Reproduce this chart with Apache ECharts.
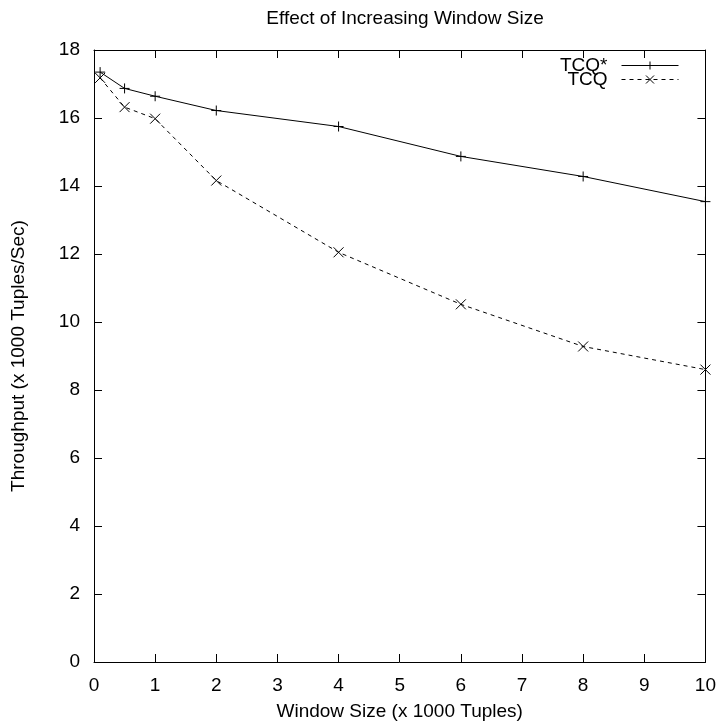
<!DOCTYPE html>
<html>
<head>
<meta charset="utf-8">
<script src="https://cdn.jsdelivr.net/npm/echarts@6/dist/echarts.min.js"></script>
<style>
  html, body { margin: 0; padding: 0; background: #fff; }
  #main { width: 719px; height: 727px; }
</style>
</head>
<body>
<div id="main"></div>
<script>
// window size (x 1000 tuples)
var windowSize = [0.1, 0.5, 1, 2, 4, 6, 8, 10];
// throughput (x 1000 tuples/sec)
var tcqStar = [17.35, 16.87, 16.64, 16.22, 15.75, 14.87, 14.28, 13.54];
var tcq = [17.18, 16.32, 15.98, 14.16, 12.05, 10.52, 9.28, 8.6];

var FONT = 'Liberation Sans, Arial, sans-serif';
var plusPath = 'path://M5,0L5,10M0,5L10,5';
var crossPath = 'path://M0,0L10,10M0,10L10,0';

function pairs(xs, ys) {
    return xs.map(function (x, i) { return [x, ys[i]]; });
}

var myChart = echarts.init(document.getElementById('main'));

// gnuplot style: full border, ticks pointing in on all four sides
var axisCommon = {
    type: 'value',
    axisLine: { show: true, onZero: false, lineStyle: { color: '#000', width: 1 } },
    axisTick: { show: true, inside: true, length: 8, lineStyle: { color: '#000' } },
    splitLine: { show: false }
};

myChart.setOption({
    animation: false,
    backgroundColor: '#fff',
    title: {
        text: 'Effect of Increasing Window Size',
        left: 400,
        top: 4,
        textAlign: 'center',
        textStyle: { fontFamily: FONT, fontSize: 19, fontWeight: 'normal', color: '#000' }
    },
    legend: {
        orient: 'vertical',
        right: 35,
        top: 51,
        align: 'right',
        itemWidth: 57,
        itemHeight: 10,
        itemGap: -5,
        lineStyle: { width: 1 },
        itemStyle: { borderWidth: 1 },
        textStyle: { fontFamily: FONT, fontSize: 19, lineHeight: 15, color: '#000', padding: [0, 9, 0, 0] },
        data: ['TCQ*', 'TCQ']
    },
    grid: { left: 94, right: 13, top: 50, bottom: 65 },
    xAxis: [
        Object.assign({}, axisCommon, {
            min: 0, max: 10, interval: 1,
            name: 'Window Size (x 1000 Tuples)',
            nameLocation: 'middle',
            nameGap: 40,
            nameTextStyle: { fontFamily: FONT, fontSize: 19, color: '#000' },
            axisLabel: { fontFamily: FONT, fontSize: 19, color: '#000', margin: 14 }
        }),
        Object.assign({}, axisCommon, {
            position: 'top', min: 0, max: 10, interval: 1,
            axisLabel: { show: false }
        })
    ],
    yAxis: [
        Object.assign({}, axisCommon, {
            min: 0, max: 18, interval: 2,
            name: 'Throughput (x 1000 Tuples/Sec)',
            nameLocation: 'middle',
            nameGap: 66,
            nameTextStyle: { fontFamily: FONT, fontSize: 19, color: '#000' },
            axisLabel: { fontFamily: FONT, fontSize: 19, color: '#000', margin: 14 }
        }),
        Object.assign({}, axisCommon, {
            position: 'right', min: 0, max: 18, interval: 2,
            axisLabel: { show: false }
        })
    ],
    series: [
        {
            name: 'TCQ*',
            type: 'line',
            data: pairs(windowSize, tcqStar),
            symbol: plusPath,
            symbolSize: 10,
            itemStyle: { color: '#000', borderColor: '#000', borderWidth: 1 },
            lineStyle: { color: '#000', width: 1, type: 'solid' }
        },
        {
            name: 'TCQ',
            type: 'line',
            data: pairs(windowSize, tcq),
            symbol: crossPath,
            symbolSize: 10,
            itemStyle: { color: '#000', borderColor: '#000', borderWidth: 1 },
            lineStyle: { color: '#000', width: 1, type: [4, 4] }
        }
    ]
});
</script>
</body>
</html>
